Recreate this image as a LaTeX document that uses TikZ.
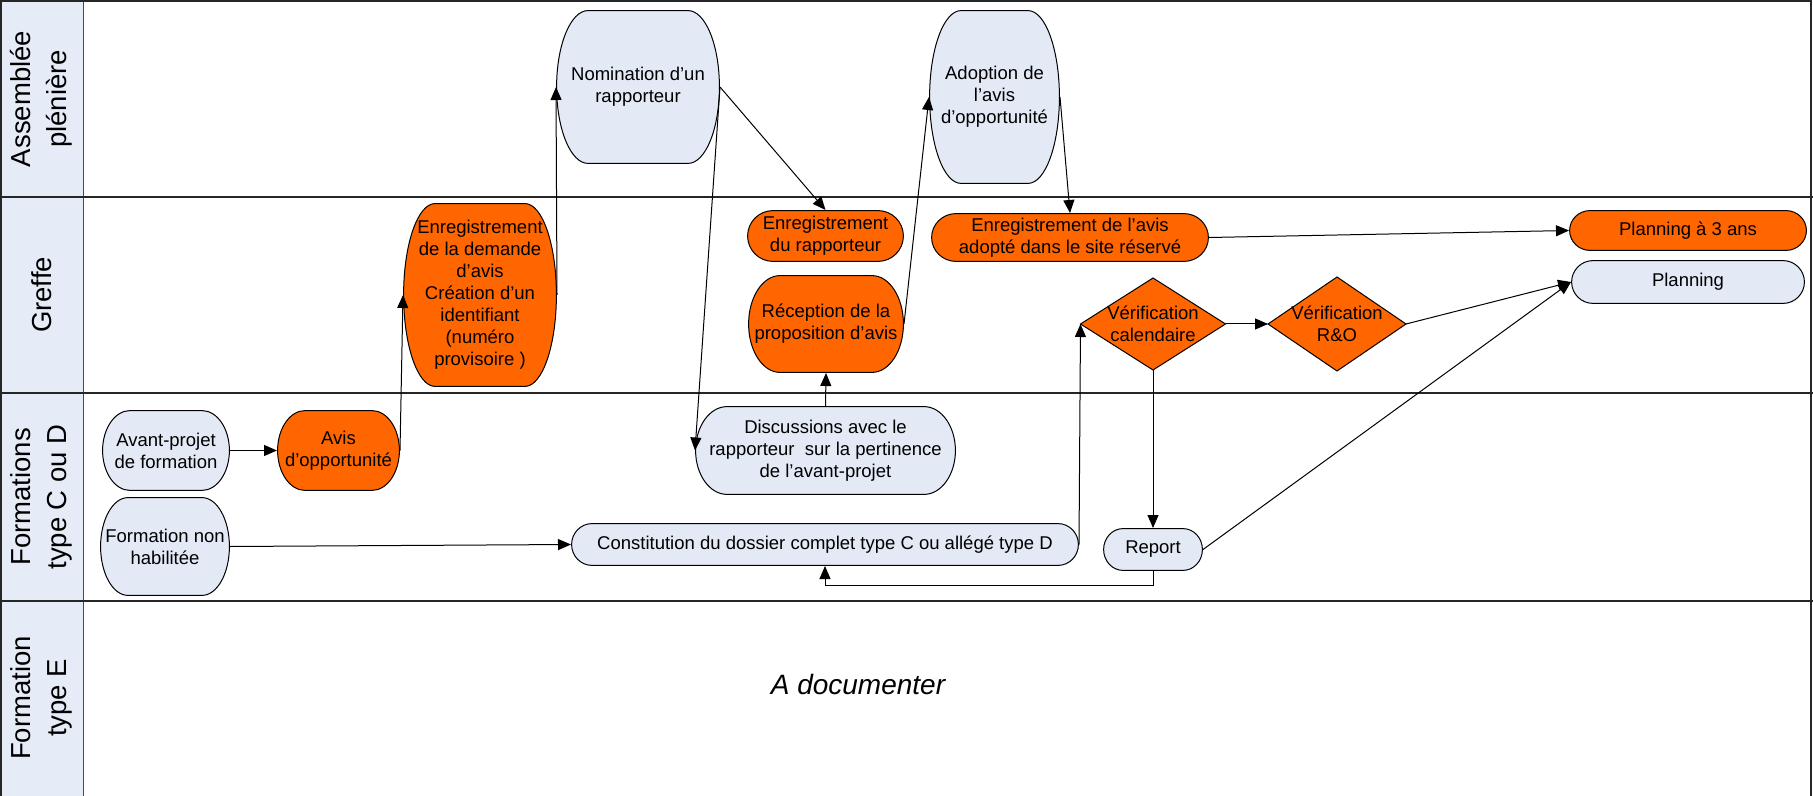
\documentclass[tikz,border=0pt]{standalone}
\usepackage{fontspec}
\setmainfont{Liberation Sans}
\usetikzlibrary{arrows.meta,shapes.geometric,calc}
\definecolor{org}{HTML}{FF6600}
\definecolor{lite}{HTML}{E3EAF6}
\definecolor{hdr}{HTML}{E6ECF7}
\begin{document}
\begin{tikzpicture}[x=0.5pt,y=-0.5pt,
  nt/.style={font=\fontsize{9.25pt}{11pt}\selectfont, align=center, text=black},
  wh/.style 2 args={minimum width=#1*0.5pt, minimum height=#2*0.5pt},
  term/.style 2 args={nt, rectangle, inner sep=0pt, outer sep=0pt,
    path picture={
      \path[draw=black, line width=0.5pt, fill=#2]
        let \p1=(path picture bounding box.south west),
            \p2=(path picture bounding box.north east),
            \n1={(\y2-\y1)/2-0.3pt},
            \n2={#1-0.3pt}
        in ({\x1+#1},{\y2-0.3pt}) -- ({\x2-#1},{\y2-0.3pt})
           arc[start angle=90, end angle=-90, x radius=\n2, y radius=\n1]
           -- ({\x1+#1},{\y1+0.3pt})
           arc[start angle=270, end angle=90, x radius=\n2, y radius=\n1]
           -- cycle;
    }},
  dia/.style 2 args={diamond, draw=black, line width=0.5pt, fill=org, inner sep=0pt,
    outer sep=0pt, minimum width=#1*0.5pt, minimum height=#2*0.5pt},
  lbl/.style={nt, inner sep=0pt},
  lanelbl/.style={font=\fontsize{13.75pt}{18pt}\selectfont, align=center, rotate=90},
  lane/.style={draw=black!85, line width=1pt},
  arr/.style={line width=0.5pt, -{Triangle[length=6.5pt,width=5.5pt]}},
]
\useasboundingbox (0,0) rectangle (1813,796);
% lanes
\fill[hdr] (0,0) rectangle (83,796);
\draw[gray!60!black, line width=0.5pt] (83,0) -- (83,796);
\draw[lane] (1,796) -- (1,1) -- (1811,1) -- (1811,796);
\foreach \yy in {197,393,601} \draw[lane] (0,\yy) -- (1813,\yy);
\node[lanelbl] (l1) at (41.5,99) {Assemblée\\plénière};
\node[lanelbl] (l2) at (41.5,295) {Greffe};
\node[lanelbl] (l3) at (41.5,497) {Formations\\type C ou D};
\node[lanelbl] (l4) at (41.5,698) {Formation\\type E};
\node[font=\fontsize{14pt}{16pt}\selectfont\itshape] (doc) at (858,684) {A documenter};
% nodes
\node[term={16pt}{lite}, wh={164}{154}] (nom) at (638,87) {Nomination d’un\\rapporteur};
\node[term={16pt}{lite}, wh={131}{174}] (adopt) at (994.5,97) {Adoption de\\l’avis\\d’opportunité};
\node[term={16pt}{org}, wh={154}{184}] (enrdem) at (480,295) {Enregistrement\\de la demande\\d’avis\\Création d’un\\identifiant\\(numéro\\provisoire )};
\node[term={13pt}{org}, wh={157}{52}] (enrrap) at (825.5,236) {Enregistrement\\du rapporteur};
\node[term={16pt}{org}, wh={156}{98}] (recep) at (826,324) {Réception de la\\proposition d’avis};
\node[term={12.5pt}{org}, wh={278}{49}] (enravis) at (1070,237.5) {Enregistrement de l’avis\\adopté dans le site réservé};
\node[term={10.5pt}{org}, wh={238}{41}] (plan3) at (1688,230.5) {Planning à 3 ans};
\node[term={11pt}{lite}, wh={234}{44}] (plan) at (1688,282) {Planning};
\node[dia={145}{92}, label={[lbl]center:Vérification\\calendaire}] (vcal) at (1153,324) {};
\node[dia={138}{94}, label={[lbl]center:Vérification\\R\&O}] (vro) at (1337,324) {};
\node[term={14pt}{lite}, wh={128}{81}] (avant) at (166,450.5) {Avant-projet\\de formation};
\node[term={14pt}{org}, wh={123}{81}] (avis) at (338.5,450.5) {Avis\\d’opportunité};
\node[term={14pt}{lite}, wh={130}{99}] (fnh) at (165,546.5) {Formation non\\habilitée};
\node[term={16pt}{lite}, wh={261}{89}] (disc) at (825.5,450.5) {Discussions avec le\\rapporteur\ \ sur la pertinence\\de l’avant-projet};
\node[term={10.5pt}{lite}, wh={508}{43}] (constit) at (825,544.5) {Constitution du dossier complet type C ou allégé type D};
\node[term={10pt}{lite}, wh={100}{43}] (report) at (1153,549.5) {Report};
% connectors
\draw[arr] (avant.east) -- (avis.west);
\draw[arr] (avis.east) -- (enrdem.west);
\draw[arr] (enrdem.east) -- (nom.west);
\draw[arr] (nom.east) -- (enrrap.north);
\draw[arr] (nom.east) -- (disc.west);
\draw[arr] (disc.north) -- (recep.south);
\draw[arr] (recep.east) -- (adopt.west);
\draw[arr] (adopt.east) -- (enravis.north);
\draw[arr] (enravis.east) -- (plan3.west);
\draw[arr] (vcal.east) -- (vro.west);
\draw[arr] (vro.east) -- (plan.west);
\draw[arr] (vcal.south) -- (report.north);
\draw[arr] (report.east) -- (plan.west);
\draw[arr] (report.south) -- ++(0,14) -| (constit.south);
\draw[arr] (fnh.east) -- (constit.west);
\draw[arr] (constit.east) -- (vcal.west);
\end{tikzpicture}
\end{document}
